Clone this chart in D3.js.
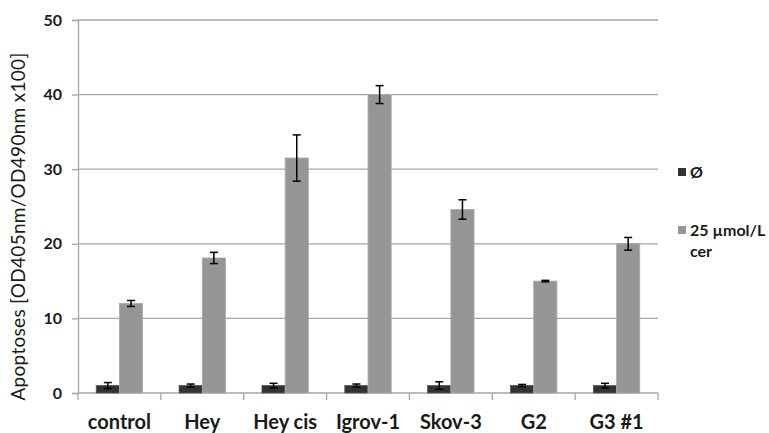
<!DOCTYPE html>
<html>
<head>
<meta charset="utf-8">
<script src="https://cdn.jsdelivr.net/npm/d3@7"></script>
<style>
  body { margin: 0; background: #fff; }
  text { font-family: Lato, "Open Sans", sans-serif; font-weight: bold; fill: #1a1a1a; }
</style>
</head>
<body>
<div id="chart"></div>
<script>
const categories = ['control', 'Hey', 'Hey cis', 'Igrov-1', 'Skov-3', 'G2', 'G3 #1'];
const seriesNames = ['Ø', '25 µmol/L cer'];
const controlValues = [1.0, 1.0, 1.0, 1.0, 1.0, 1.0, 1.0];
const controlErrors = [0.4, 0.2, 0.3, 0.2, 0.5, 0.15, 0.3];
const cerValues = [12.0, 18.1, 31.5, 40.0, 24.6, 15.0, 20.0];
const cerErrors = [0.4, 0.75, 3.1, 1.2, 1.3, 0.1, 0.85];
const yTicks = [0, 10, 20, 30, 40, 50];

const width = 769;
const height = 433;
const margin = { top: 20, right: 111, bottom: 40, left: 78 };
const chartWidth = width - margin.left - margin.right;
const chartHeight = height - margin.top - margin.bottom;
const colors = ['#333333', '#969696'];

const svg = d3.select('#chart').append('svg').attr('width', width).attr('height', height);
const chart = svg.append('g').attr('transform', `translate(${margin.left}, ${margin.top})`);

const x0 = d3.scaleBand().domain(categories).range([0, chartWidth]).paddingInner(0.44).paddingOuter(0.22);
const x1 = d3.scaleBand().domain(seriesNames).range([0, x0.bandwidth()]);
const y = d3.scaleLinear().domain([0, 50]).range([chartHeight, 0]);

// gridlines
chart.append('g')
  .selectAll('line')
  .data(yTicks.slice(1))
  .enter()
  .append('line')
  .attr('x1', 0)
  .attr('x2', chartWidth)
  .attr('y1', (d) => y(d))
  .attr('y2', (d) => y(d))
  .attr('stroke', '#a6a6a6')
  .attr('stroke-width', 1.3);

// y axis
const yAxis = chart.append('g').call(d3.axisLeft(y).tickValues(yTicks).tickSize(6).tickPadding(10));
yAxis.select('.domain').attr('stroke', '#a6a6a6').attr('stroke-width', 1.3);
yAxis.selectAll('.tick line').attr('stroke', '#a6a6a6').attr('stroke-width', 1.3);
yAxis.selectAll('text').style('font-size', '16px').attr('fill', '#1a1a1a');

// x axis with ticks at category boundaries
const step = x0.step();
chart.append('line')
  .attr('x1', 0).attr('x2', chartWidth)
  .attr('y1', chartHeight).attr('y2', chartHeight)
  .attr('stroke', '#a6a6a6').attr('stroke-width', 1.3);
chart.append('g')
  .selectAll('line')
  .data(d3.range(categories.length + 1))
  .enter()
  .append('line')
  .attr('x1', (i) => i * step)
  .attr('x2', (i) => i * step)
  .attr('y1', chartHeight)
  .attr('y2', chartHeight + 7)
  .attr('stroke', '#a6a6a6')
  .attr('stroke-width', 1.3);
chart.append('g')
  .selectAll('text')
  .data(categories)
  .enter()
  .append('text')
  .text((d) => d)
  .attr('x', (d) => x0(d) + x0.bandwidth() / 2)
  .attr('y', chartHeight + 36)
  .attr('text-anchor', 'middle')
  .style('font-size', '20px');

// bars
const rows = categories.map((c, i) => ({
  cat: c,
  vals: [
    { s: seriesNames[0], v: controlValues[i], e: controlErrors[i], k: 0 },
    { s: seriesNames[1], v: cerValues[i], e: cerErrors[i], k: 1 }
  ]
}));

const groups = chart.selectAll('.grp')
  .data(rows)
  .enter()
  .append('g')
  .attr('class', 'grp')
  .attr('transform', (d) => `translate(${x0(d.cat)}, 0)`);

groups.selectAll('.bar')
  .data((d) => d.vals)
  .enter()
  .append('rect')
  .attr('class', 'bar')
  .attr('x', (d) => x1(d.s))
  .attr('y', (d) => y(d.v))
  .attr('width', x1.bandwidth())
  .attr('height', (d) => chartHeight - y(d.v))
  .attr('fill', (d) => colors[d.k])
  .attr('stroke', (d) => (d.k === 1 ? '#aaaaaa' : '#555'))
  .attr('stroke-width', 0.8);

// error bars
const cap = 4;
const err = groups.selectAll('.err')
  .data((d) => d.vals)
  .enter()
  .append('g')
  .attr('class', 'err')
  .attr('stroke', '#000')
  .attr('stroke-width', 1.5);
err.append('line')
  .attr('x1', (d) => x1(d.s) + x1.bandwidth() / 2)
  .attr('x2', (d) => x1(d.s) + x1.bandwidth() / 2)
  .attr('y1', (d) => y(d.v + d.e))
  .attr('y2', (d) => y(d.v - d.e));
err.append('line')
  .attr('x1', (d) => x1(d.s) + x1.bandwidth() / 2 - cap)
  .attr('x2', (d) => x1(d.s) + x1.bandwidth() / 2 + cap)
  .attr('y1', (d) => y(d.v + d.e))
  .attr('y2', (d) => y(d.v + d.e));
err.append('line')
  .attr('x1', (d) => x1(d.s) + x1.bandwidth() / 2 - cap)
  .attr('x2', (d) => x1(d.s) + x1.bandwidth() / 2 + cap)
  .attr('y1', (d) => y(d.v - d.e))
  .attr('y2', (d) => y(d.v - d.e));

// y axis title
svg.append('text')
  .text('Apoptoses [OD405nm/OD490nm x100]')
  .attr('transform', `translate(25, ${margin.top + chartHeight / 2 + 20}) rotate(-90)`)
  .attr('text-anchor', 'middle')
  .style('font-size', '19px')
  .style('font-weight', 'normal')
  .style('letter-spacing', '0.3px');

// legend
const legend = svg.append('g').attr('transform', 'translate(678, 0)');
legend.append('rect').attr('x', 0).attr('y', 168).attr('width', 8).attr('height', 8).attr('fill', colors[0]);
legend.append('text').text('Ø').attr('x', 12).attr('y', 178).style('font-size', '16px');
legend.append('rect').attr('x', 0).attr('y', 226).attr('width', 8).attr('height', 8).attr('fill', colors[1]);
legend.append('text').text('25 µmol/L').attr('x', 12).attr('y', 236).style('font-size', '16px');
legend.append('text').text('cer').attr('x', 12).attr('y', 257).style('font-size', '16px');
</script>
</body>
</html>
